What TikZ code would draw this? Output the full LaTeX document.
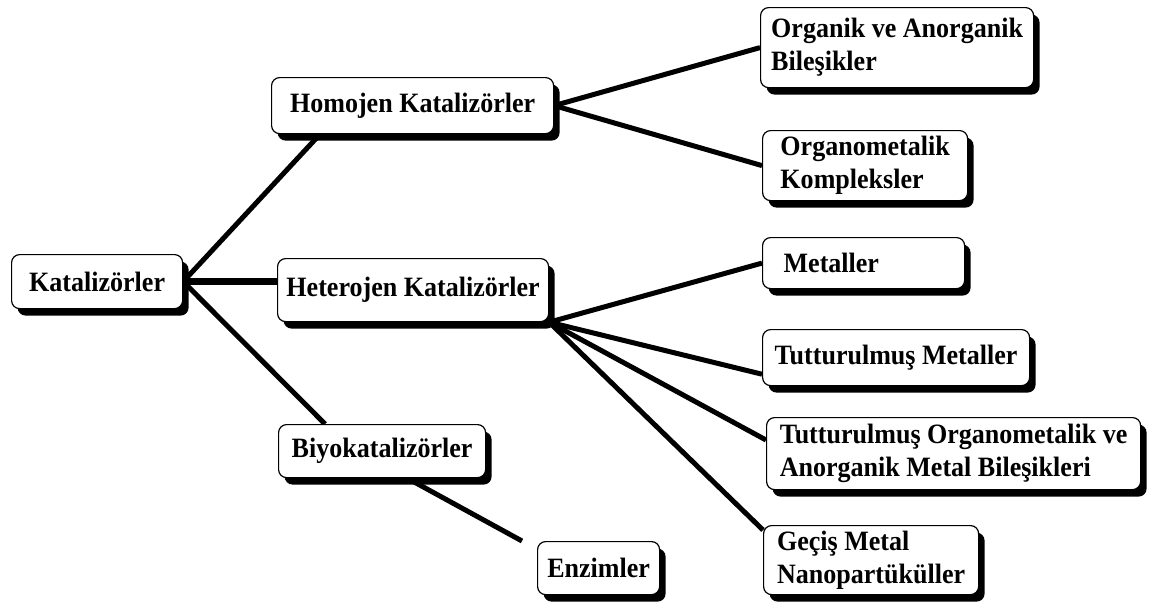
\documentclass[tikz,border=0pt]{standalone}
\usepackage{fontspec}
\setmainfont[FakeStretch=0.93]{Liberation Serif}
\usetikzlibrary{shadows,calc}
\pgfdeclarelayer{background}
\pgfsetlayers{background,main}

\begin{document}
\begin{tikzpicture}[x=1pt,y=-1pt,
  kutu/.style={draw,line width=1.2pt,rounded corners=8pt,fill=white,anchor=north west,align=left,inner sep=0pt,
    font=\bfseries\fontsize{28}{33}\selectfont,
    drop shadow={shadow xshift=6pt,shadow yshift=-7pt,fill=black,opacity=1}},
  dal/.style={line width=5pt},
  kalin/.style={line width=7pt}]
\useasboundingbox (0,0) rectangle (1158,608);
% ana dal
\node[kutu,minimum width=171pt,minimum height=54pt] (kat) at (11,254) {Katalizörler};
\node[kutu,minimum width=282pt,minimum height=56pt] (homo) at (271,77) {Homojen Katalizörler};
\node[kutu,minimum width=271pt,minimum height=63pt] (hetero) at (277,258) {Heterojen Katalizörler};
\node[kutu,minimum width=207pt,minimum height=53pt] (biyo) at (278,424) {Biyokatalizörler};
% homojen alt dallar
\node[kutu,minimum width=273pt,minimum height=80pt] (organik) at (760,7) {Organik ve Anorganik\\Bileşikler};
\node[kutu,minimum width=205pt,minimum height=70pt] (orgmet) at (762,130) {Organometalik\\Kompleksler};
% heterojen alt dallar
\node[kutu,minimum width=202pt,minimum height=51pt,text width=160pt] (metal) at (762,237) {Metaller};
\node[kutu,minimum width=267pt,minimum height=56pt] (tutmet) at (762,329) {Tutturulmuş Metaller};
\node[kutu,minimum width=374pt,minimum height=72pt] (tutorg) at (766,417) {Tutturulmuş Organometalik ve\\Anorganik Metal Bileşikleri};
\node[kutu,minimum width=215pt,minimum height=69pt] (gecis) at (763,525) {Geçiş Metal\\Nanopartüküller};
% biyo alt dal
\node[kutu,minimum width=122pt,minimum height=53pt] (enzim) at (537,541) {Enzimler};

\begin{pgfonlayer}{background}
\draw[dal] (kat.east) -- ([xshift=49pt]homo.south west);
\draw[kalin] (kat.east) -- (kat.east -| hetero.west);
\draw[dal] (kat.east) -- ([xshift=47pt]biyo.north west);
\draw[dal] (homo.east) -- (organik.west);
\draw[dal] (homo.east) -- (orgmet.west);
\draw[dal] (hetero.south east) -- (metal.west);
\draw[dal] (hetero.south east) -- ([yshift=12pt]tutmet.south west);
\draw[dal] (hetero.south east) -- ([yshift=-23pt]tutorg.north west);
\draw[dal] (hetero.south east) -- ([yshift=-5pt]gecis.north west);
\draw[dal] ([xshift=122pt,yshift=4pt]biyo.south west) -- ([xshift=-15pt]enzim.north west);
\end{pgfonlayer}
\end{tikzpicture}
\end{document}
